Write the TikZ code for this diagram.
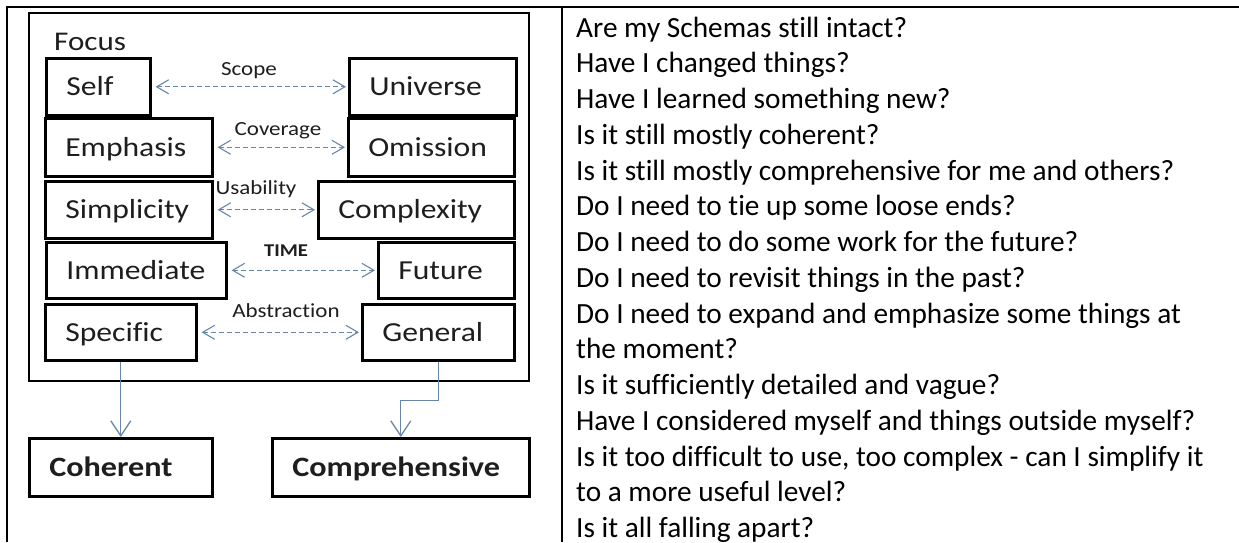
\documentclass[tikz,border=0pt]{standalone}
\usepackage{fontspec}
\setmainfont{Carlito}[Ligatures=NoCommon]
\newfontfamily\diagfont[FakeStretch=1.15, Ligatures=NoCommon]{Carlito}
\usetikzlibrary{arrows.meta}
\definecolor{linkblue}{RGB}{104,134,172}
\definecolor{inkgray}{RGB}{30,30,30}

\begin{document}
\begin{tikzpicture}[x=1pt, y=-1pt,
    box/.style={draw, line width=2.6pt, anchor=north west, inner xsep=20pt, inner ysep=0pt,
      text width=#1, minimum height=57pt, text height=18pt, text depth=0pt, align=left,
      text=inkgray, font=\diagfont\fontsize{27.5}{30}\selectfont},
    result/.style={box=#1, minimum height=58pt, font=\diagfont\bfseries\fontsize{28}{30}\selectfont},
    axis/.style={anchor=base, inner sep=0pt, text=inkgray, font=\diagfont\fontsize{20}{24}\selectfont},
    pair/.style={<->, >={Straight Barb[length=12pt,width=14pt]}, linkblue, line width=1.1pt,
      dash pattern=on 5pt off 3pt, shorten <=4pt, shorten >=2pt},
    flow/.style={->, >={Straight Barb[length=15pt,width=20pt]}, linkblue, line width=1.3pt},
    rule/.style={line width=2pt},
    question/.style={anchor=base west, inner sep=0pt, font=\fontsize{29.3}{35}\selectfont}
  ]
  \useasboundingbox[fill=white] (0,0) rectangle (1239,542);

  % table lines
  \draw[rule] (6,7) -- (1239,7);
  \draw[rule] (7,7) -- (7,542);
  \draw[rule] (562,7) -- (562,542);

  % Focus frame
  \node[draw, line width=2pt, anchor=north west, inner sep=0pt,
    minimum width=500pt, minimum height=368pt] (frame) at (28,12) {};
  \node[anchor=base west, inner sep=0pt, text=inkgray,
    font=\diagfont\fontsize{27}{30}\selectfont] (focus) at (54,50) {Focus};

  % left column
  \node[box=64pt] (self) at (45,57) {Self};
  \node[box=127pt, minimum height=58pt] (emphasis) at (44,117) {Emphasis};
  \node[box=127pt] (simplicity) at (44,180) {Simplicity};
  \node[box=140pt, minimum height=56pt] (immediate) at (45,241) {Immediate};
  \node[box=111pt, minimum height=56pt] (specific) at (44,303) {Specific};

  % right column
  \node[box=127pt] (universe) at (348,57) {Universe};
  \node[box=126pt, minimum height=58pt] (omission) at (347,117) {Omission};
  \node[box=156pt] (complexity) at (317,180) {Complexity};
  \node[box=96pt, minimum height=56pt] (future) at (377,241) {Future};
  \node[box=112pt, minimum height=56pt] (general) at (361,303) {General};

  % axis labels
  \node[axis] (scope) at (249,75) {Scope};
  \node[axis] (coverage) at (278,135) {Coverage};
  \node[axis] (usability) at (256,194) {Usability};
  \node[axis, font=\diagfont\bfseries\fontsize{18}{22}\selectfont] (time) at (286,256) {TIME};
  \node[axis] (abstraction) at (286,317) {Abstraction};

  % dashed pairs
  \draw[pair] (self.east) -- (universe.west);
  \draw[pair] (emphasis.east) -- (omission.west);
  \draw[pair] (simplicity.east) -- (complexity.west);
  \draw[pair] (immediate.east) -- (future.west);
  \draw[pair] (specific.east) -- (general.west);

  % results
  \node[result=143pt] (coherent) at (28,437) {Coherent};
  \node[result=217pt] (comprehensive) at (271,437) {Comprehensive};

  \draw[flow] (specific.south) -- (coherent.north);
  \draw[flow] (general.south) -- ++(0,39) -| (comprehensive.north);

  % questions
  \foreach \txt [count=\i] in {Are my Schemas still intact?, Have I changed things?,
      Have I learned something new?, Is it still mostly coherent?,
      Is it still mostly comprehensive for me and others?, Do I need to tie up some loose ends?,
      Do I need to do some work for the future?, Do I need to revisit things in the past?,
      Do I need to expand and emphasize some things at, the moment?,
      Is it sufficiently detailed and vague?, Have I considered myself and things outside myself?,
      {Is it too difficult to use, too complex - can I simplify it}, to a more useful level?,
      Is it all falling apart?}
    \node[question] (q\i) at (576,{37+35.75*(\i-1)}) {\txt};
\end{tikzpicture}
\end{document}
